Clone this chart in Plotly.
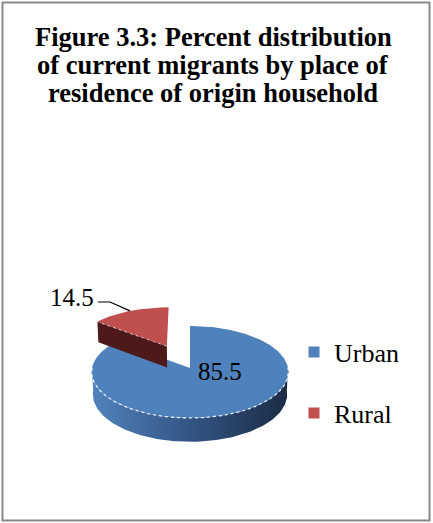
import numpy as np
import plotly.graph_objects as go

# ---- data ----
categories = ["Urban", "Rural"]
values = [85.5, 14.5]
top_colors = ["#4f81bd", "#c0504d"]
wall_scales = [
    [[0, "#5283bd"], [0.45, "#35598a"], [1, "#1b2b45"]],
    [[0, "#6b2624"], [1, "#3f1514"]],
]
face_colors = ["#27436b", "#4d1a19"]
explode = [0.0, 0.56]

title_lines = [
    "Figure 3.3: Percent distribution",
    "of current migrants by place of",
    "residence of origin household",
]

# ---- canvas / projection settings ----
W, H = 433, 523
CX, CY = 190, 368          # pixel position of the pie centre
S = 98                     # pixels per pie radius
TILT = np.radians(27.8)    # viewing elevation
DIST = 10.2                # camera distance (perspective strength)
DEPTH = 0.26               # pie thickness in radius units
SERIF = "Liberation Serif, Times New Roman, serif"


def project(X, Y, Z):
    """3D pie coordinates -> 2D axis units (1 unit = one radius)."""
    X, Y, Z = np.asarray(X, float), np.asarray(Y, float), np.asarray(Z, float)
    v = Z * np.cos(TILT) + Y * np.sin(TILT)
    d = Y * np.cos(TILT) - Z * np.sin(TILT)
    f = DIST / (DIST + d)
    return X * f, v * f


def px(xp, yp):
    """pixel position -> axis units"""
    return (xp - CX) / S, (CY - yp) / S


fig = go.Figure()

start = 90.0
slices = []
for cat, val, e in zip(categories, values, explode):
    sweep = val / 100 * 360
    a0, a1 = start, start - sweep          # clockwise from 12 o'clock
    mid = np.radians((a0 + a1) / 2)
    slices.append(dict(cat=cat, val=val, a0=a0, a1=a1,
                       ox=e * np.cos(mid), oy=e * np.sin(mid)))
    start = a1

for i, sl in enumerate(slices):
    ox, oy = sl["ox"], sl["oy"]
    a0, a1 = sl["a0"], sl["a1"]

    # outer wall: only the part facing the viewer (front half)
    lo, hi = a1, a0
    for k in range(-2, 2):
        w0 = max(lo, -180 + 360 * k)
        w1 = min(hi, 0 + 360 * k)
        if w1 - w0 > 0.5:
            t = np.radians(np.linspace(w0, w1, 120))
            xs = ox + np.cos(t)
            ys = oy + np.sin(t)
            X = np.concatenate([xs, xs[::-1]])
            Y = np.concatenate([ys, ys[::-1]])
            Z = np.concatenate([np.zeros_like(xs), np.full_like(xs, -DEPTH)])
            px_, py_ = project(X, Y, Z)
            fig.add_trace(go.Scatter(
                x=np.append(px_, px_[0]), y=np.append(py_, py_[0]),
                mode="lines", fill="toself", line=dict(width=0),
                fillgradient=dict(type="horizontal", colorscale=wall_scales[i]),
                hoverinfo="skip", showlegend=False))

    # radial cut faces that turn towards the viewer
    for ang, normal in ((a0, a0 + 90), (a1, a1 - 90)):
        if np.sin(np.radians(normal)) < -0.01:
            r = np.radians(ang)
            X = [ox, ox + np.cos(r), ox + np.cos(r), ox, ox]
            Y = [oy, oy + np.sin(r), oy + np.sin(r), oy, oy]
            Z = [0, 0, -DEPTH, -DEPTH, 0]
            fx, fy = project(X, Y, Z)
            fig.add_trace(go.Scatter(
                x=fx, y=fy, mode="lines", fill="toself",
                fillcolor=face_colors[i], line=dict(width=0),
                hoverinfo="skip", showlegend=False))
            # light seam along the top edge of the cut
            sx, sy = project(X[:2], Y[:2], [0, 0])
            fig.add_trace(go.Scatter(
                x=sx, y=sy, mode="lines",
                line=dict(color="rgba(255,255,255,0.85)", width=1.3, dash="dot"),
                hoverinfo="skip", showlegend=False))

    # top face
    t = np.radians(np.linspace(a0, a1, 240))
    X = np.concatenate([[ox], ox + np.cos(t), [ox]])
    Y = np.concatenate([[oy], oy + np.sin(t), [oy]])
    tx, ty = project(X, Y, np.zeros_like(X))
    fig.add_trace(go.Scatter(
        x=tx, y=ty, mode="lines", fill="toself", fillcolor=top_colors[i],
        line=dict(width=0), hoverinfo="skip", showlegend=False))

    # light seam along the front rim of the top face
    lo, hi = a1, a0
    for k in range(-2, 2):
        w0 = max(lo, -180 + 360 * k)
        w1 = min(hi, 0 + 360 * k)
        if w1 - w0 > 0.5:
            tt = np.radians(np.linspace(w0, w1, 120))
            rx, ry = project(ox + np.cos(tt), oy + np.sin(tt), np.zeros_like(tt))
            fig.add_trace(go.Scatter(
                x=rx, y=ry, mode="lines",
                line=dict(color="rgba(255,255,255,0.85)", width=1.3, dash="dot"),
                hoverinfo="skip", showlegend=False))

# ---- data labels ----
urban, rural = slices
lx, ly = px(220, 371)
fig.add_annotation(x=lx, y=ly, text=f"{urban['val']}", showarrow=False,
                   xanchor="center", yanchor="middle",
                   font=dict(family=SERIF, size=25, color="#000000"))

# leader line from the Rural slice's rim to its label
mid = np.radians((rural["a0"] + rural["a1"]) / 2)
rim_x, rim_y = project(rural["ox"] + np.cos(mid), rural["oy"] + np.sin(mid), 0.0)
ex, ey = px(110, 302)
kx, ky = px(98, 302)
fig.add_trace(go.Scatter(
    x=[float(rim_x), ex, kx], y=[float(rim_y), ey, ky], mode="lines",
    line=dict(color="#000000", width=1.2), hoverinfo="skip", showlegend=False))
tx_, ty_ = px(96, 297)
fig.add_annotation(x=tx_, y=ty_, text=f"{rural['val']}", showarrow=False,
                   xanchor="right", yanchor="middle",
                   font=dict(family=SERIF, size=25, color="#000000"))

# ---- legend entries (one legend box per entry) ----
legend_names = ["legend", "legend2"]
legend_y = [352, 413]
for cat, col, lg in zip(categories, top_colors, legend_names):
    fig.add_trace(go.Scatter(
        x=[None], y=[None], mode="markers", name=cat, legend=lg,
        marker=dict(symbol="square", size=11, color=col)))

legend_style = dict(xanchor="left", yanchor="middle",
                    bgcolor="rgba(0,0,0,0)", borderwidth=0,
                    font=dict(family=SERIF, size=26, color="#000000"),
                    itemsizing="trace")
fig.update_layout(
    legend=dict(x=294 / W, y=1 - legend_y[0] / H, **legend_style),
    legend2=dict(x=294 / W, y=1 - legend_y[1] / H, **legend_style),
)

# ---- title (three tightly spaced lines) ----
for line, base in zip(title_lines, [46, 74, 102]):
    fig.add_annotation(x=213 / W, y=1 - (base - 9) / H, xref="paper", yref="paper",
                       text=f"<b>{line}</b>", showarrow=False,
                       xanchor="center", yanchor="middle",
                       font=dict(family=SERIF, size=26.5, color="#000000"))

# ---- outer frame ----
fig.add_shape(type="rect", xref="paper", yref="paper",
              x0=2.5 / W, x1=429.5 / W, y0=1 - 520.5 / H, y1=1 - 2.5 / H,
              line=dict(color="#8a8a8a", width=2), fillcolor="rgba(0,0,0,0)",
              layer="above")

x0, y0 = px(0, H)
x1, y1 = px(W, 0)
fig.update_layout(
    width=W, height=H, autosize=False,
    margin=dict(l=0, r=0, t=0, b=0),
    paper_bgcolor="#ffffff", plot_bgcolor="#ffffff",
    xaxis=dict(range=[x0, x1], visible=False, fixedrange=True),
    yaxis=dict(range=[y0, y1], visible=False, fixedrange=True),
    showlegend=True,
)

fig.write_html("out.html", config={"displayModeBar": False})
